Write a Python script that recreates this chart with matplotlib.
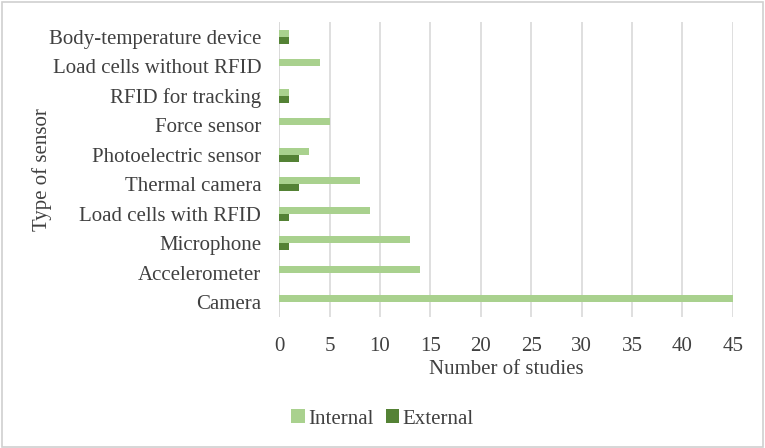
import matplotlib.pyplot as plt
import numpy as np
from matplotlib.patches import Rectangle

plt.rcParams['font.family'] = ['Liberation Serif', 'DejaVu Serif']

# Sensor types, bottom to top
sensors = ['Camera', 'Accelerometer', 'Microphone', 'Load cells with RFID',
           'Thermal camera', 'Photoelectric sensor', 'Force sensor',
           'RFID for tracking', 'Load cells without RFID', 'Body-temperature device']
internal = [45, 14, 13, 9, 8, 3, 5, 1, 4, 1]
external = [0, 0, 1, 1, 2, 2, 0, 1, 0, 1]
xticks = [0, 5, 10, 15, 20, 25, 30, 35, 40, 45]

fig = plt.figure(figsize=(7.65, 4.48), dpi=100)
ax = fig.add_axes([0.365, 0.292, 0.593, 0.659])

y = np.arange(len(sensors))
h = 0.235
ax.barh(y + h / 2, internal, height=h, color='#A9D18E', linewidth=0,
        label='Internal', zorder=3)
ax.barh(y - h / 2, external, height=h, color='#548235', linewidth=0,
        label='External', zorder=3)

ax.set_xlim(0, 45)
ax.set_ylim(-0.5, len(sensors) - 0.5)
ax.set_xticks(xticks)
ax.set_yticks(y)
ax.set_yticklabels(sensors)
ax.xaxis.grid(True, color='#D9D9D9', linewidth=1.2, zorder=0)
ax.set_axisbelow(True)
for s in ax.spines.values():
    s.set_visible(False)
ax.axvline(0, color='#D9D9D9', linewidth=1.2, zorder=1)
ax.tick_params(axis='both', length=0, labelsize=15, colors='#404040')
ax.tick_params(axis='x', pad=14)
ax.tick_params(axis='y', pad=13)

ax.set_xlabel('Number of studies', fontsize=15, color='#404040', labelpad=3)
ax.set_ylabel('Type of sensor', fontsize=15, color='#404040', labelpad=-2)

leg = fig.legend(loc='center', bbox_to_anchor=(0.5, 0.065), ncol=2, frameon=False,
                 fontsize=15, handlelength=0.65, handleheight=0.65, handletextpad=0.15,
                 columnspacing=0.6, labelcolor='#404040')

fig.patches.append(Rectangle((0.002, 0.003), 0.995, 0.993, transform=fig.transFigure,
                             fill=False, edgecolor='#D0D0D0', linewidth=1.2))

plt.savefig('out.png', dpi=100)
